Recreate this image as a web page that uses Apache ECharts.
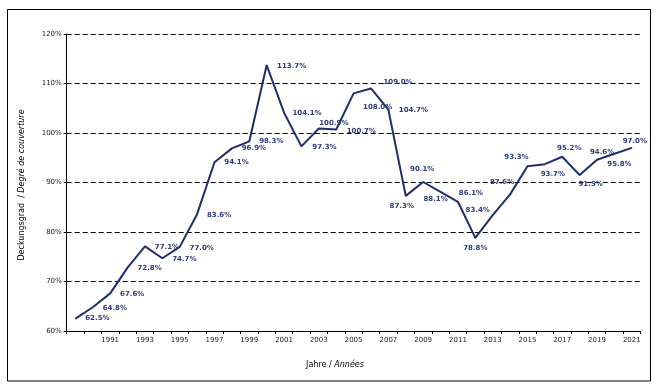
<!DOCTYPE html>
<html><head><meta charset="utf-8">
<script src="https://cdn.jsdelivr.net/npm/echarts@6/dist/echarts.min.js"></script>
<style>html,body{margin:0;padding:0;background:#fff}#c{width:660px;height:391px}</style>
</head><body><div id="c"></div>
<script>
const years = [1989,1990,1991,1992,1993,1994,1995,1996,1997,1998,1999,2000,2001,2002,2003,2004,2005,2006,2007,2008,2009,2010,2011,2012,2013,2014,2015,2016,2017,2018,2019,2020,2021];
const coverage = [62.5,64.8,67.6,72.8,77.1,74.7,77.0,83.6,94.1,96.9,98.3,113.7,104.1,97.3,100.9,100.7,108.0,109.0,104.7,87.3,90.1,88.1,86.1,78.8,83.4,87.6,93.3,93.7,95.2,91.5,94.6,95.8,97.0];
const yTicks = [60,70,80,90,100,110,120];

// label placement (layout only)
const labelOffsets = [[22,0],[22,1],[22,1],[22,1],[22,1],[22,1],[22,1],[22,1],[22,0],[22,0],[22,0],[25,1],[23,0],[23,1],[15,-5],[25,2],[24,14],[27,-6],[25,0],[-4,10],[-1,-13],[-5,7],[13,-9],[0,10],[-15,-5],[-8,-12],[-11,-9],[8,10],[7,-9],[11,9],[5,-8],[5,10],[3,-7]];

const chart = echarts.init(document.getElementById('c'));
const data = coverage.map((v,i)=>({value:v,label:{offset:labelOffsets[i]}}));
chart.setOption({
  animation:false,
  grid:{left:66.7,right:19.5,top:34,bottom:60,containLabel:false},
  xAxis:{type:'category',data:years.map(String),boundaryGap:true,
    axisLine:{lineStyle:{color:'#000',width:1}},
    axisTick:{show:true,interval:0,length:3,lineStyle:{color:'#000'}},
    axisLabel:{interval:(i)=>i%2===0&&i>0,fontFamily:'DejaVu Sans',fontSize:7,color:'#222',margin:6},
    splitLine:{show:false}},
  yAxis:{type:'value',min:yTicks[0],max:yTicks[yTicks.length-1],interval:10,
    axisLine:{show:true,lineStyle:{color:'#000',width:1}},
    axisTick:{show:true,length:3,lineStyle:{color:'#000'}},
    axisLabel:{formatter:'{value}%',fontFamily:'DejaVu Sans',fontSize:7,color:'#222',margin:5},
    splitLine:{show:true,lineStyle:{color:'#000',type:[5,3],width:1}}},
  series:[{type:'line',data:data,symbol:'circle',symbolSize:1,showSymbol:true,
    lineStyle:{color:'#1F2E6E',width:2},itemStyle:{color:'#1F2E6E'},
    label:{show:true,position:'inside',align:'center',verticalAlign:'middle',
      formatter:(p)=>p.value.toFixed(1)+'%',fontFamily:'DejaVu Sans',fontWeight:'bold',fontSize:7,color:'#2E3C7C'}}],
  graphic:[
    {type:'rect',shape:{x:7.5,y:9.5,width:643,height:371.5},style:{fill:'none',stroke:'#000',lineWidth:1},silent:true},
    {type:'text',x:335,y:365,style:{text:'{n|Jahre / }{i|Années}',align:'center',verticalAlign:'middle',
      rich:{n:{fontFamily:'DejaVu Sans',fontSize:8,fill:'#000'},i:{fontFamily:'DejaVu Sans',fontSize:8,fontStyle:'italic',fill:'#000'}}}},
    {type:'text',x:22,y:185,rotation:Math.PI/2,style:{text:'{n|Deckungsgrad  / }{i|Degré de couverture}',align:'center',verticalAlign:'middle',
      rich:{n:{fontFamily:'DejaVu Sans',fontSize:8,fill:'#000'},i:{fontFamily:'DejaVu Sans',fontSize:8,fontStyle:'italic',fill:'#000'}}}}
  ]
});
</script></body></html>
